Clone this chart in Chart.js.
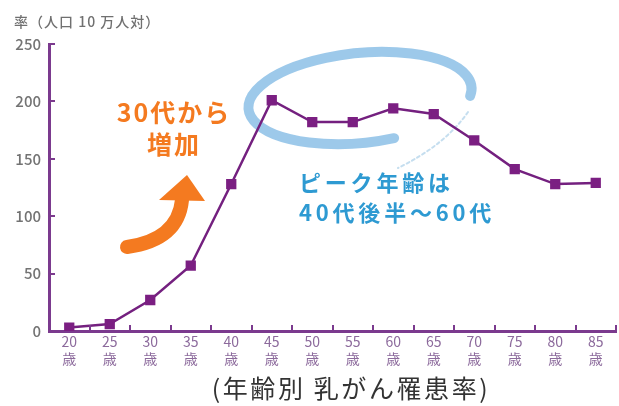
<!DOCTYPE html>
<html lang="ja">
<head>
<meta charset="utf-8">
<script src="https://cdn.jsdelivr.net/npm/chart.js@4.4.0/dist/chart.umd.min.js"></script>
<style>
  html, body { margin: 0; padding: 0; background: #fff; overflow: hidden; }
  #wrap { position: relative; width: 619px; height: 406px; overflow: hidden; font-family: "Noto Sans CJK JP", sans-serif; }
  #wrap canvas { position: absolute; left: 0; top: 0; }
  .note { position: absolute; white-space: nowrap; font-weight: bold; }
  #unit { left: 14px; top: 11px; font-size: 14px; letter-spacing: 1px; color: #707070; font-weight: 500; }
  #rise { left: 112px; top: 95px; font-size: 25px; letter-spacing: 2px; line-height: 32px; color: #f47a20; text-align: center; width: 124px; }
  #peak { left: 299px; top: 166px; font-size: 22px; letter-spacing: 3.8px; line-height: 30px; color: #2e9ad2; }
  #caption { left: 0; width: 702px; top: 369px; font-size: 25px; letter-spacing: 2.6px; color: #333; font-weight: normal; text-align: center; }
</style>
</head>
<body>
<div id="wrap">
  <canvas id="chart" width="624" height="406"></canvas>
  <div class="note" id="unit">率（人口 10 万人対）</div>
  <div class="note" id="rise">30代から<br>増加</div>
  <div class="note" id="peak">ピーク年齢は<br>40代後半〜60代</div>
  <div class="note" id="caption">(年齢別 乳がん罹患率)</div>
</div>
<script>
// 年齢階級と罹患率（人口10万人対）
const ages = ['20', '25', '30', '35', '40', '45', '50', '55', '60', '65', '70', '75', '80', '85'];
const ageUnit = '歳';
const rates = [3, 6, 27, 57, 128, 201, 182, 182, 194, 189, 166, 141, 128, 129];
const yTicks = [0, 50, 100, 150, 200, 250];

const PURPLE = '#74207f';
const AXIS = '#7b3a8e';

// 手書き風の楕円と矢印
const annotations = {
    id: 'annotations',
    beforeDatasetsDraw(chart) {
        const ctx = chart.ctx;
        ctx.save();
        // 青い囲み
        ctx.strokeStyle = 'rgba(140,192,230,0.85)';
        ctx.lineWidth = 10;
        ctx.lineCap = 'round';
        ctx.beginPath();
        ctx.ellipse(360, 98, 112, 45, -0.1, 1.3, Math.PI * 2 + 0.2);
        ctx.stroke();
        // かすれたしっぽ
        ctx.strokeStyle = 'rgba(150,195,225,0.55)';
        ctx.lineWidth = 2;
        ctx.setLineDash([3, 3]);
        ctx.beginPath();
        ctx.moveTo(468, 112);
        ctx.quadraticCurveTo(445, 145, 398, 168);
        ctx.stroke();
        ctx.setLineDash([]);
        // オレンジの矢印
        ctx.strokeStyle = '#f47a20';
        ctx.fillStyle = '#f47a20';
        ctx.lineWidth = 14;
        ctx.beginPath();
        ctx.moveTo(127, 247);
        ctx.quadraticCurveTo(178, 240, 182, 200);
        ctx.stroke();
        ctx.beginPath();
        ctx.moveTo(159, 200);
        ctx.lineTo(205, 201);
        ctx.lineTo(187, 175);
        ctx.closePath();
        ctx.fill();
        ctx.restore();
    },
    afterDraw(chart) {
        // 内向きの目盛り
        const ctx = chart.ctx;
        const area = chart.chartArea;
        const x = chart.scales.x;
        const y = chart.scales.y;
        ctx.save();
        ctx.strokeStyle = AXIS;
        ctx.lineWidth = 2;
        yTicks.slice(1).forEach(v => {
            const py = Math.round(y.getPixelForValue(v));
            ctx.beginPath();
            ctx.moveTo(area.left, py);
            ctx.lineTo(area.left + 6, py);
            ctx.stroke();
        });
        for (let i = 0; i < ages.length; i++) {
            const px = Math.round(x.getPixelForValue(i + 0.5));
            ctx.beginPath();
            ctx.moveTo(px, area.bottom);
            ctx.lineTo(px, area.bottom - 6);
            ctx.stroke();
        }
        ctx.restore();
    }
};

new Chart(document.getElementById('chart'), {
    type: 'line',
    data: {
        labels: ages.map(a => [a, ageUnit]),
        datasets: [{
            data: rates,
            borderColor: PURPLE,
            borderWidth: 2.5,
            pointStyle: 'rect',
            pointRadius: 5.5,
            pointBackgroundColor: '#7b1f82',
            pointBorderColor: '#7b1f82',
            tension: 0
        }]
    },
    options: {
        responsive: false,
        animation: false,
        devicePixelRatio: 1,
        layout: { padding: { left: 0, right: 2, top: 44, bottom: 36 } },
        plugins: { legend: { display: false }, tooltip: { enabled: false } },
        scales: {
            x: {
                type: 'category',
                offset: true,
                grid: { display: false, drawTicks: false },
                border: { display: true, color: AXIS, width: 3 },
                ticks: {
                    color: '#8c6a9c',
                    font: { family: '"Noto Sans CJK JP", sans-serif', size: 14 },
                    padding: 2,
                    maxRotation: 0,
                    autoSkip: false
                },
                afterFit(scale) { scale.height = 39; }
            },
            y: {
                min: 0,
                max: 250,
                afterBuildTicks(scale) { scale.ticks = yTicks.map(v => ({ value: v })); },
                grid: { display: false, drawTicks: false },
                border: { display: true, color: AXIS, width: 3 },
                ticks: {
                    color: '#737373',
                    font: { family: '"Noto Sans CJK JP", sans-serif', size: 15, weight: '500' },
                    padding: 8
                },
                afterFit(scale) { scale.width = 49; }
            }
        }
    },
    plugins: [annotations]
});
</script>
</body>
</html>
